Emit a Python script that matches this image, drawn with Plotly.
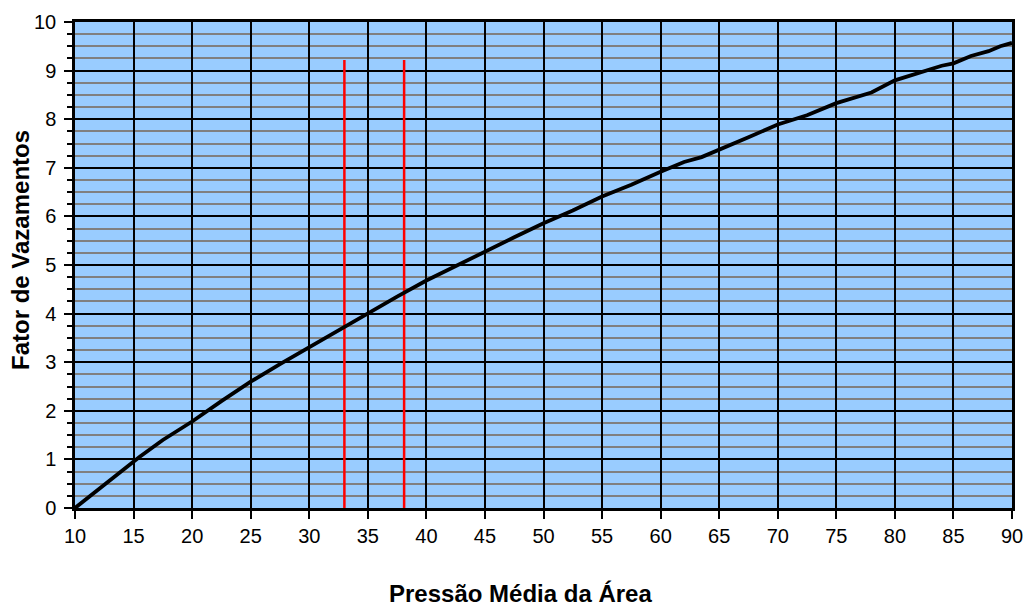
import plotly.graph_objects as go

pressao = [10, 12.5, 15, 15.5, 17.5, 20, 22.5, 25, 27.5, 30, 32.5, 35, 37.5, 40, 42.5, 45, 47.5, 50,
           52.5, 55, 57.5, 60, 62, 63.5, 65, 67.5, 70, 72.5, 75, 76.5, 78, 80, 82, 84, 85, 86.5, 88, 89, 90]
fator = [0, 0.48, 0.95, 1.05, 1.4, 1.78, 2.2, 2.6, 2.96, 3.31, 3.67, 4.01, 4.35, 4.68, 4.98, 5.29, 5.57, 5.86,
         6.12, 6.41, 6.65, 6.92, 7.12, 7.22, 7.38, 7.63, 7.89, 8.08, 8.33, 8.45, 8.55, 8.8, 8.95, 9.1, 9.15,
         9.3, 9.4, 9.5, 9.57]

linhas_x = [33, 38.1]
linhas_y = [0, 9.22]

x_ticks = list(range(10, 91, 5))
y_ticks = list(range(0, 11, 1))

W, H = 1024, 614
L, R, T, B = 75, 12, 22, 106
pw, ph = W - L - R, H - T - B

fig = go.Figure()
for lx in linhas_x:
    fig.add_trace(go.Scatter(x=[lx, lx], y=linhas_y, mode="lines",
                             line=dict(color="#FF0000", width=2.5), showlegend=False, hoverinfo="skip"))
fig.add_trace(go.Scatter(x=pressao, y=fator, mode="lines",
                         line=dict(color="black", width=3.8), showlegend=False))

font = "Liberation Sans, Arial, sans-serif"
fig.update_layout(
    width=W, height=H,
    margin=dict(l=L, r=R, t=T, b=B),
    paper_bgcolor="white", plot_bgcolor="#99CCFF",
    font=dict(family=font, size=20, color="black"),
    xaxis=dict(range=[10, 90], tickvals=x_ticks, ticktext=[str(v) for v in x_ticks],
               showgrid=True, gridcolor="black", gridwidth=2,
               showline=True, linecolor="black", linewidth=2.5, mirror=True,
               ticks="outside", ticklen=8, tickcolor="black", tickwidth=2,
               zeroline=False, tickfont=dict(size=20), automargin=False),
    yaxis=dict(range=[0, 10], tickvals=y_ticks, ticktext=[str(v) for v in y_ticks],
               showgrid=True, gridcolor="black", gridwidth=2,
               showline=True, linecolor="black", linewidth=2.5, mirror=True,
               ticks="outside", ticklen=8, tickcolor="black", tickwidth=2,
               zeroline=False, tickfont=dict(size=20), automargin=False,
               ticklabelstandoff=4,
               minor=dict(dtick=0.25, showgrid=True, gridcolor="#808080", gridwidth=1.8,
                          ticks="outside", ticklen=5, tickcolor="black", tickwidth=2)),
    annotations=[
        dict(text="<b>Pressão Média da Área</b>", x=(520 - L) / pw, y=(H - B - 593) / ph,
             xref="paper", yref="paper", xanchor="center", yanchor="middle",
             showarrow=False, font=dict(size=24)),
        dict(text="<b>Fator de Vazamentos</b>", x=(20 - L) / pw, y=(H - B - 250) / ph,
             xref="paper", yref="paper", xanchor="center", yanchor="middle", textangle=-90,
             showarrow=False, font=dict(size=24)),
    ],
)

fig.write_html("out.html", config={"displayModeBar": False},
               post_script="document.body.style.margin='0';document.body.style.overflow='hidden';")
